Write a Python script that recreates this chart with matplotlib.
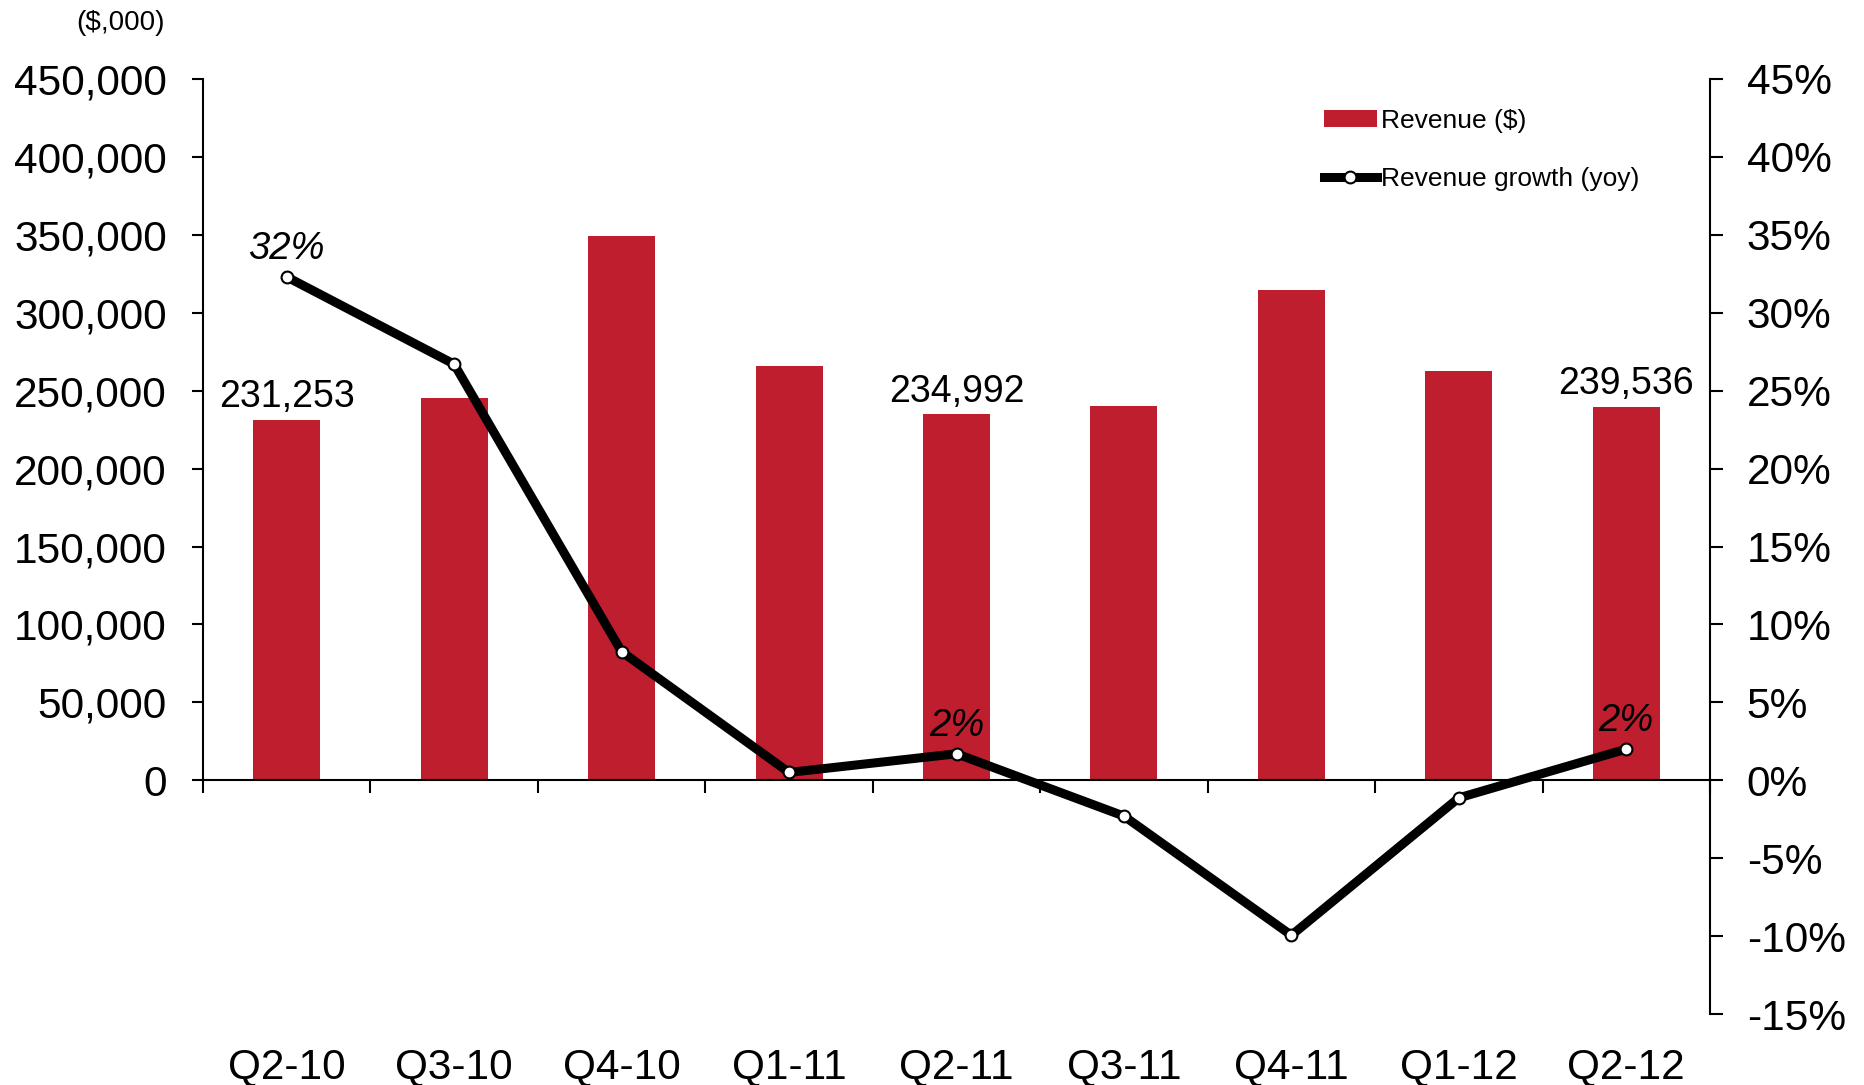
import matplotlib
matplotlib.use("Agg")
import matplotlib.pyplot as plt
from matplotlib.ticker import FuncFormatter, FixedLocator
from matplotlib.patches import Patch
from matplotlib.lines import Line2D

plt.rcParams['font.family'] = ['Liberation Sans', 'DejaVu Sans']

# data
quarters = ["Q2-10", "Q3-10", "Q4-10", "Q1-11", "Q2-11", "Q3-11", "Q4-11", "Q1-12", "Q2-12"]
revenue = [231253, 245300, 349400, 265600, 234992, 239950, 314700, 262400, 239536]
growth = [32.3, 26.7, 8.25, 0.5, 1.7, -2.3, -9.95, -1.13, 2.0]
bar_labels = {0: "231,253", 4: "234,992", 8: "239,536"}
growth_labels = {0: "32%", 4: "2%", 8: "2%"}

bar_color = "#BE1E2D"
W, H = 1864, 1085
fig = plt.figure(figsize=(W / 100, H / 100), dpi=100)
ax = fig.add_axes([203 / W, 1 - 1014 / H, (1710 - 203) / W, (1014 - 79) / H])
ax2 = ax.twinx()

x = list(range(len(quarters)))
ax.bar(x, revenue, width=0.4, color=bar_color, zorder=1)
ax.set_xlim(-0.5, len(quarters) - 0.5)
ax.set_ylim(-150000, 450000)
ax.yaxis.set_major_locator(FixedLocator(range(0, 450001, 50000)))
ax.yaxis.set_major_formatter(FuncFormatter(lambda v, _: f"{int(v):,}"))
ax.spines['left'].set_bounds(0, 450000)
ax.spines['bottom'].set_position(('data', 0))
for s in ['top', 'right']:
    ax.spines[s].set_visible(False)
for s in ['left', 'bottom']:
    ax.spines[s].set_linewidth(1.5)
ax.tick_params(axis='y', direction='out', length=8, width=1.5, pad=18, labelsize=30.5)

ax.set_xticks(x)
ax.set_xticklabels(quarters)
ax.set_xticks([i - 0.5 for i in range(len(quarters) + 1)], minor=True)
ax.tick_params(axis='x', which='major', length=0, pad=192, labelsize=30.5)
ax.tick_params(axis='x', which='minor', length=9.5, width=1.5, direction='out')

for i, txt in bar_labels.items():
    ax.annotate(txt, (x[i], revenue[i]), xytext=(0, 9), textcoords='offset points',
                ha='center', va='baseline', fontsize=27)

ax2.plot(x, growth, color='black', lw=6.5, marker='o', markersize=8.5,
         markerfacecolor='white', markeredgecolor='black', markeredgewidth=1.5, zorder=3)
ax2.set_ylim(-15, 45)
ax2.yaxis.set_major_locator(FixedLocator(range(-15, 46, 5)))
ax2.yaxis.set_major_formatter(FuncFormatter(lambda v, _: f"{int(v)}%"))
for s in ['top', 'left', 'bottom']:
    ax2.spines[s].set_visible(False)
ax2.spines['right'].set_linewidth(1.5)
ax2.tick_params(axis='y', direction='out', length=9.5, width=1.5, pad=17, labelsize=30.5)

for i, txt in growth_labels.items():
    ax2.annotate(txt, (x[i], growth[i]), xytext=(0, 13), textcoords='offset points',
                 ha='center', va='baseline', fontsize=27.5, style='italic')

fig.text(165 / W, 1 - 23 / H, "($,000)", ha='right', va='center', fontsize=20)

handles = [
    Patch(facecolor=bar_color, label="Revenue ($)"),
    Line2D([0], [0], color='black', lw=6.5, marker='o', markersize=8.5,
           markerfacecolor='white', markeredgecolor='black', markeredgewidth=1.5,
           label="Revenue growth (yoy)"),
]
fig.legend(handles=handles, loc='upper left', bbox_to_anchor=(1324 / W, 1 - 109 / H),
           bbox_transform=fig.transFigure, frameon=False, fontsize=19,
           handlelength=2.0, handletextpad=0.15, labelspacing=1.28,
           borderpad=0, borderaxespad=0, handleheight=0.6)

fig.savefig("out.png", dpi=100)
